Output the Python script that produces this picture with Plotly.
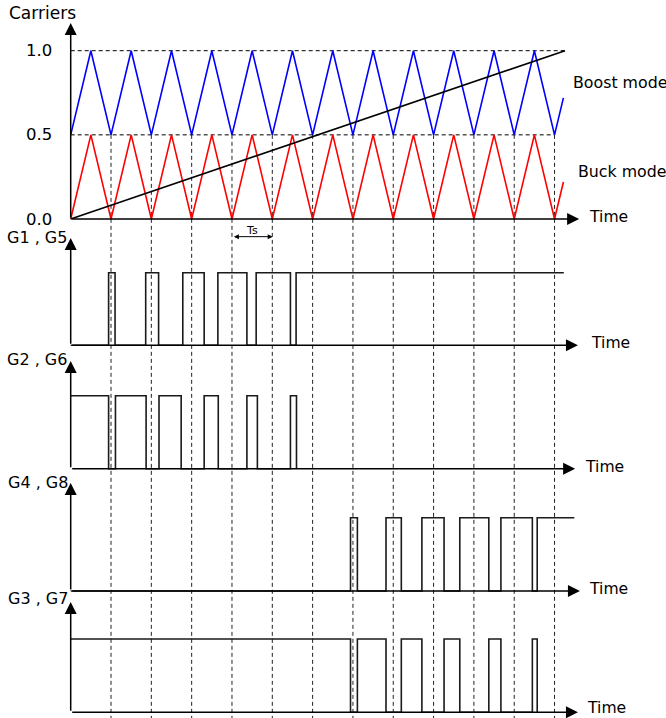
import plotly.graph_objects as go

# ---------------- data ----------------
carrier_t = [0.0, 0.5, 1.0, 1.5, 2.0, 2.5, 3.0, 3.5, 4.0, 4.5, 5.0, 5.5, 6.0,
             6.5, 7.0, 7.5, 8.0, 8.5, 9.0, 9.5, 10.0, 10.5, 11.0, 11.5, 12.0, 12.22]
boost_carrier = [0.5, 1.0, 0.5, 1.0, 0.5, 1.0, 0.5, 1.0, 0.5, 1.0, 0.5, 1.0, 0.5,
                 1.0, 0.5, 1.0, 0.5, 1.0, 0.5, 1.0, 0.5, 1.0, 0.5, 1.0, 0.5, 0.72]
buck_carrier = [0.0, 0.5, 0.0, 0.5, 0.0, 0.5, 0.0, 0.5, 0.0, 0.5, 0.0, 0.5, 0.0,
                0.5, 0.0, 0.5, 0.0, 0.5, 0.0, 0.5, 0.0, 0.5, 0.0, 0.5, 0.0, 0.22]
ramp_t = [0.0, 12.26]
ramp_v = [0.0, 1.0]

period_marks = [1, 2, 3, 4, 5, 6, 7, 8, 9, 10, 11, 12]
carrier_ticks = [0.0, 0.5, 1.0]
carrier_ticktext = ["0.0", "0.5", "1.0"]

# gate signals: switching instants (time in carrier periods) and levels (hv steps)
g1_t = [0.0, 0.94, 1.10, 1.86, 2.18, 2.78, 3.31, 3.65, 4.37, 4.60, 5.45, 5.59, 12.23]
g1_v = [0, 1, 0, 1, 0, 1, 0, 1, 0, 1, 0, 1, 1]
g2_t = [0.0, 0.94, 1.11, 1.87, 2.19, 2.74, 3.31, 3.66, 4.37, 4.63, 5.45, 5.60]
g2_v = [1, 0, 1, 0, 1, 0, 1, 0, 1, 0, 1, 0]
g4_t = [0.0, 6.94, 7.11, 7.82, 8.20, 8.71, 9.26, 9.65, 10.37, 10.67, 11.45, 11.57, 12.49]
g4_v = [0, 1, 0, 1, 0, 1, 0, 1, 0, 1, 0, 1, 1]
g3_t = [0.0, 6.94, 7.11, 7.82, 8.20, 8.71, 9.26, 9.65, 10.37, 10.67, 11.45, 11.57]
g3_v = [1, 0, 1, 0, 1, 0, 1, 0, 1, 0, 1, 0]

gate_names = ["G1 , G5", "G2 , G6", "G4 , G8", "G3 , G7"]

# ---------------- layout helpers (pixel calibration) ----------------
W, H = 666, 718
X0_PX, PER_PX = 70.7, 40.32
tmin = -X0_PX / PER_PX
tmax = tmin + W / PER_PX


def yrange(base_px, high_px):
    s = base_px - high_px
    return [(base_px - H) / s, base_px / s]


# (baseline px, high px) for each panel
carrier_cal = (219.0, 50.7)
gate_cal = [(345.3, 272.7), (468.7, 395.7), (591.0, 517.7), (712.3, 639.0)]

fig = go.Figure()

FONT = "DejaVu Sans"
LINE = "#1a1a1a"

# dashed verticals (carrier axis)
cr = yrange(*carrier_cal)
vx, vy = [], []
for t in period_marks:
    vx += [t, t, None]
    vy += [0.5, cr[0], None]
fig.add_trace(go.Scatter(x=vx, y=vy, mode="lines", yaxis="y",
                         line=dict(color="#222", width=1, dash="4px,3px"), hoverinfo="skip"))
# dashed horizontals
fig.add_trace(go.Scatter(x=[0, 12.26, None, 0, 12.0], y=[1.0, 1.0, None, 0.5, 0.5],
                         mode="lines", yaxis="y",
                         line=dict(color="black", width=1, dash="4px,3px"), hoverinfo="skip"))

fig.add_trace(go.Scatter(x=carrier_t, y=boost_carrier, mode="lines", yaxis="y",
                         line=dict(color="#0000ff", width=1.6)))
fig.add_trace(go.Scatter(x=carrier_t, y=buck_carrier, mode="lines", yaxis="y",
                         line=dict(color="#ff0000", width=1.6)))
fig.add_trace(go.Scatter(x=ramp_t, y=ramp_v, mode="lines", yaxis="y",
                         line=dict(color="black", width=1.6)))

gates = [(g1_t, g1_v), (g2_t, g2_v), (g4_t, g4_v), (g3_t, g3_v)]
for i, (gt, gv) in enumerate(gates):
    fig.add_trace(go.Scatter(x=gt, y=gv, mode="lines", line_shape="hv",
                             yaxis=f"y{i + 2}",
                             line=dict(color=LINE, width=1.6), hoverinfo="skip"))

annotations = []


def arrow(x, y, ax, ay, yref, size=1.6, width=1.5, side="end"):
    annotations.append(dict(x=x, y=y, ax=ax, ay=ay, xref="x", yref=yref,
                            axref="x", ayref=yref, text="", showarrow=True,
                            arrowhead=2, arrowsize=size, arrowwidth=width,
                            arrowcolor="black", arrowside=side, standoff=0,
                            startstandoff=0))


# carrier axes
arrow(0, 1.165, 0, 0, "y")
arrow(12.61, 0, 0, 0, "y")
# Ts arrow
arrow(5.01, -0.105, 4.01, -0.105, "y", size=1.0, width=1, side="end+start")

gate_tips = [(1.478, 12.58), (1.475, 12.51), (1.473, 12.63), (1.505, 12.58)]
for i, (ytip, ttip) in enumerate(gate_tips):
    yr = f"y{i + 2}"
    arrow(0, ytip, 0, 0, yr)
    arrow(ttip, 0, 0, 0, yr)


def text(s, xpx, ypx, size=16, xanchor="left"):
    annotations.append(dict(x=xpx / W, y=1 - ypx / H, xref="paper", yref="paper",
                            text=s, showarrow=False, xanchor=xanchor, yanchor="middle",
                            font=dict(family=FONT, size=size, color="black")))


text("Carriers", 7, 13, size=17)
for v, lab in zip(carrier_ticks, carrier_ticktext):
    ypx = carrier_cal[0] - v * (carrier_cal[0] - carrier_cal[1])
    text(lab, 54, ypx, size=16.5, xanchor="right")
text("Boost mode", 570.5, 82, size=15.8)
text("Buck mode", 575.5, 172, size=15.8)
text("Ts", 252, 230, size=11, xanchor="center")

time_pos = [(587, 217), (589, 343), (583, 467), (587, 589), (585, 708)]
for xp, yp in time_pos:
    text("Time", xp, yp, size=15.6)

name_pos = [(5, 237), (5, 359), (6, 483), (6, 598)]
for name, (xp, yp) in zip(gate_names, name_pos):
    text(name, xp, yp, size=16)

layout = dict(
    width=W, height=H, margin=dict(l=0, r=0, t=0, b=0),
    paper_bgcolor="white", plot_bgcolor="white", showlegend=False,
    xaxis=dict(range=[tmin, tmax], visible=False, fixedrange=True),
    yaxis=dict(range=cr, visible=False, domain=[0, 1], fixedrange=True),
    annotations=annotations,
)
for i, cal in enumerate(gate_cal):
    layout[f"yaxis{i + 2}"] = dict(range=yrange(*cal), visible=False, domain=[0, 1],
                                   overlaying="y", fixedrange=True)
fig.update_layout(**layout)

fig.write_html("out.html")
